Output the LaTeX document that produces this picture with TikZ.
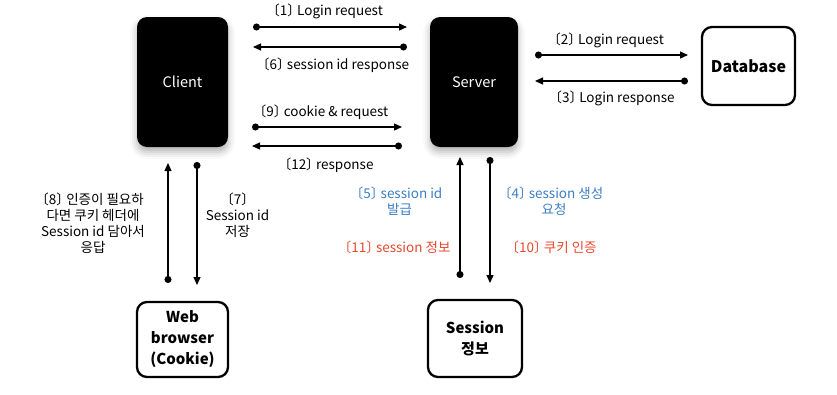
\documentclass[tikz,border=0pt]{standalone}
\usepackage{fontspec}
\setmainfont[RawFeature=+halt]{Noto Sans CJK KR}
\usetikzlibrary{arrows.meta,shadows.blur}
\definecolor{lblblue}{HTML}{3C7DC4}
\definecolor{lblred}{HTML}{E8472E}
\tikzset{
  darkbox/.style={fill=black,rounded corners=10pt,text=white,font=\fontsize{14.5}{16}\selectfont,
    blur shadow={shadow xshift=0pt,shadow yshift=-5pt,shadow blur radius=7pt,shadow opacity=30}},
  whitebox/.style={draw=black,line width=2.3pt,rounded corners=10pt,fill=white,align=center,
    font=\fontsize{15}{21}\selectfont\bfseries},
  conn/.style={line width=1.2pt,{Circle[length=7pt]}-{Triangle[length=8pt,width=7pt]}},
  lbl/.style={font=\fontsize{13.5}{16}\selectfont,align=center,inner sep=0pt},
}
\begin{document}
\begin{tikzpicture}[x=1pt,y=-1pt]
\useasboundingbox (0,0) rectangle (837,394);
% boxes
\node[darkbox,minimum width=91pt,minimum height=130pt] (client) at (182.5,82) {Client};
\node[darkbox,minimum width=88pt,minimum height=130pt] (server) at (474,82) {Server};
\node[whitebox,minimum width=93pt,minimum height=78pt,font=\fontsize{16}{19}\selectfont\bfseries] (db) at (748.5,66) {Database};
\node[whitebox,minimum width=91pt,minimum height=75pt] (web) at (182.5,339.5) {Web\\browser\\(Cookie)};
\node[whitebox,minimum width=94pt,minimum height=77pt] (sess) at (475,338.5) {Session\\정보};
% connector end points
\coordinate (a1) at (253,27);  \coordinate (b1) at (407,27);
\coordinate (a6) at (407,47);  \coordinate (b6) at (253,47);
\coordinate (a9) at (252,127); \coordinate (b9) at (402,127);
\coordinate (a12) at (402,146); \coordinate (b12) at (252,146);
\coordinate (a2) at (535,55);  \coordinate (b2) at (688,55);
\coordinate (a3) at (688,81);  \coordinate (b3) at (535,81);
\coordinate (a8) at (168,283); \coordinate (b8) at (168,163);
\coordinate (a7) at (197,162); \coordinate (b7) at (197,285);
\coordinate (a5) at (460,278); \coordinate (b5) at (460,157);
\coordinate (a4) at (490,157); \coordinate (b4) at (490,283);
\foreach \i in {1,6,9,12,2,3,8,7,5,4} \draw[conn] (a\i) -- (b\i);
% labels
\node[lbl] (l1) at (328,11) {〔1〕 Login request};
\node[lbl] (l6) at (336,65) {〔6〕 session id response};
\node[lbl] (l9) at (324,112) {〔9〕 cookie \& request};
\node[lbl] (l12) at (329,165) {〔12〕 response};
\node[lbl] (l2) at (609,40) {〔2〕 Login request};
\node[lbl] (l3) at (615,98) {〔3〕 Login response};
\node[lbl] (l8) at (93,223) {〔8〕 인증이 필요하\\다면 쿠키 헤더에\\Session id 담아서\\응답};
\node[lbl] (l7) at (237.5,215) {〔7〕\\Session id\\저장};
\node[lbl,text=lblblue] (l5) at (399.5,201) {〔5〕 session id\\발급};
\node[lbl,text=lblblue] (l4) at (554,201) {〔4〕 session 생성\\요청};
\node[lbl,text=lblred] (l11) at (397.5,247) {〔11〕 session 정보};
\node[lbl,text=lblred] (l10) at (554.5,247) {〔10〕 쿠키 인증};
\end{tikzpicture}
\end{document}
